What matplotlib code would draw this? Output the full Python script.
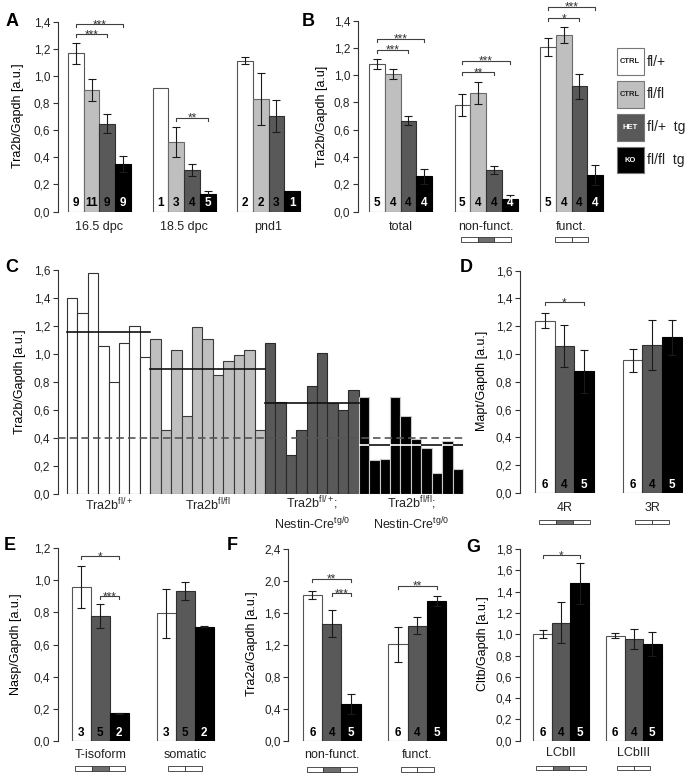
import matplotlib
matplotlib.use('Agg')
import matplotlib.pyplot as plt
from matplotlib.patches import Rectangle
import numpy as np

plt.rcParams['font.family'] = ['Liberation Sans', 'DejaVu Sans']
plt.rcParams['mathtext.fontset'] = 'custom'
plt.rcParams['mathtext.rm'] = 'Liberation Sans'
plt.rcParams['mathtext.it'] = 'Liberation Sans:italic'
plt.rcParams['mathtext.bf'] = 'Liberation Sans:bold'

# ---------------- data ----------------
genotypes4 = ['CTRL fl/+', 'CTRL fl/fl', 'HET fl/+ tg', 'KO fl/fl tg']

A_groups = ['16.5 dpc', '18.5 dpc', 'pnd1']
A_vals = [[1.165, 0.895, 0.648, 0.352], [0.908, 0.514, 0.308, 0.132], [1.111, 0.827, 0.705, 0.152]]
A_err = [[0.080, 0.078, 0.067, 0.060], [0.0, 0.110, 0.045, 0.022], [0.027, 0.190, 0.120, 0.0]]
A_n = [[9, 11, 9, 9], [1, 3, 4, 5], [2, 2, 3, 1]]

B_groups = ['total', 'non-funct.', 'funct.']
B_vals = [[1.082, 1.009, 0.665, 0.257], [0.780, 0.867, 0.303, 0.095], [1.205, 1.292, 0.918, 0.266]]
B_err = [[0.035, 0.034, 0.033, 0.053], [0.080, 0.080, 0.027, 0.025], [0.065, 0.060, 0.090, 0.073]]
B_n = [[5, 4, 4, 4], [5, 4, 4, 4], [5, 4, 4, 4]]

C_groups = [r'Tra2b$^{\mathrm{fl/+}}$', r'Tra2b$^{\mathrm{fl/fl}}$',
            'Tra2b$^{\\mathrm{fl/+}}$;\nNestin-Cre$^{\\mathrm{tg/0}}$',
            'Tra2b$^{\\mathrm{fl/fl}}$;\nNestin-Cre$^{\\mathrm{tg/0}}$']
C_flhet = [1.40, 1.29, 1.58, 1.06, 0.80, 1.08, 1.20, 0.98]
C_flfl = [1.11, 0.46, 1.03, 0.56, 1.19, 1.11, 0.85, 0.95, 0.99, 1.03, 0.46]
C_het = [1.08, 0.66, 0.28, 0.46, 0.77, 1.01, 0.65, 0.60, 0.74]
C_ko = [0.69, 0.24, 0.25, 0.69, 0.56, 0.39, 0.33, 0.15, 0.38, 0.18]
C_means = [1.16, 0.89, 0.65, 0.35]
C_threshold = 0.40

D_groups = ['4R', '3R']
D_vals = [[1.24, 1.06, 0.875], [0.955, 1.065, 1.12]]
D_err = [[0.053, 0.15, 0.157], [0.082, 0.18, 0.125]]
D_n = [[6, 4, 5], [6, 4, 5]]

E_groups = ['T-isoform', 'somatic']
E_vals = [[0.96, 0.778, 0.170], [0.794, 0.935, 0.711]]
E_err = [[0.13, 0.075, 0.004], [0.151, 0.055, 0.003]]
E_n = [[3, 5, 2], [3, 5, 2]]

F_groups = ['non-funct.', 'funct.']
F_vals = [[1.825, 1.467, 0.458], [1.208, 1.44, 1.75]]
F_err = [[0.054, 0.17, 0.125], [0.22, 0.104, 0.06]]
F_n = [[6, 4, 5], [6, 4, 5]]

G_groups = ['LCbII', 'LCbIII']
G_vals = [[0.999, 1.108, 1.478], [0.986, 0.958, 0.908]]
G_err = [[0.039, 0.19, 0.194], [0.024, 0.094, 0.11]]
G_n = [[6, 4, 5], [6, 4, 5]]

legend_box = ['CTRL', 'CTRL', 'HET', 'KO']
legend_lab = ['fl/+', 'fl/fl', 'fl/+  tg', 'fl/fl  tg']

# ---------------- style ----------------
COL4 = ['#ffffff', '#bfbfbf', '#595959', '#000000']
EDG4 = ['#555555', '#6a6a6a', '#303030', '#000000']
NCOL4 = ['#000000', '#000000', '#000000', '#ffffff']
COL3 = [COL4[0], COL4[2], COL4[3]]
EDG3 = [EDG4[0], EDG4[2], EDG4[3]]
NCOL3 = [NCOL4[0], NCOL4[2], NCOL4[3]]

W, H = 686, 775
fig = plt.figure(figsize=(W / 100, H / 100), dpi=100)


def make_ax(spine_px, y0_px, ymax, ppu, xmax, wpx, ystep):
    ax = fig.add_axes([spine_px / W, 1 - y0_px / H, xmax * wpx / W, ymax * ppu / H])
    ax.set_xlim(0, xmax)
    ax.set_ylim(0, ymax)
    for s in ['top', 'right', 'bottom']:
        ax.spines[s].set_visible(False)
    ax.spines['left'].set_color('#333333')
    ax.spines['left'].set_linewidth(0.8)
    ticks = np.round(np.arange(0, ymax + 1e-9, ystep), 2)
    ax.set_yticks(ticks)
    ax.set_yticklabels([f"{t:.1f}".replace('.', ',') for t in ticks], fontsize=8.5, color='#222222')
    ax.tick_params(axis='y', length=3.5, width=0.8, color='#333333', pad=2)
    ax.set_xticks([])
    ax.patch.set_alpha(0)
    info = dict(y0=y0_px, ppu=ppu, wpx=wpx)
    return ax, info


def ydat(info, p):
    return (info['y0'] - p) / info['ppu']


def grouped(ax, info, offset, step, vals_l, errs_l, ns_l, cols, edges, ncols):
    starts = []
    for g, (vals, errs, ns) in enumerate(zip(vals_l, errs_l, ns_l)):
        x0 = offset + g * step
        starts.append(x0)
        xs = x0 + np.arange(len(vals))
        ax.bar(xs, vals, width=1, align='edge', color=cols, edgecolor=edges, linewidth=0.8, zorder=2)
        for x, v, e in zip(xs, vals, errs):
            if e > 0:
                ax.errorbar(x + 0.5, v, yerr=e, fmt='none', ecolor='#1a1a1a', elinewidth=0.8,
                            capsize=3, capthick=0.8, zorder=3)
        for x, n, c in zip(xs, ns, ncols):
            ax.text(x + 0.5, ydat(info, info['y0'] - 8), str(n), ha='center', va='center',
                    fontsize=8.5, fontweight='bold', color=c, zorder=4)
    return starts


def bracket(ax, info, x1, x2, y, stars):
    t = 3.0 / info['ppu']
    ax.plot([x1, x1, x2, x2], [y - t, y, y, y - t], color='#404040', lw=0.8, clip_on=False, zorder=5)
    ax.text((x1 + x2) / 2, y - 4.0 / info['ppu'], stars, ha='center', va='baseline', fontsize=8.5,
            color='#333333', clip_on=False, zorder=5)


def group_labels(ax, info, starts, nb, labels, ypx, fs=9):
    for s, lab in zip(starts, labels):
        ax.text(s + nb / 2, ydat(info, ypx), lab, ha='center', va='center', fontsize=fs,
                color='#222222', clip_on=False)


def schematic(ax, info, xc, top_px, nseg, height_px=4.5, seg_px=16.7):
    sw = seg_px / info['wpx']
    y_top = ydat(info, top_px)
    hh = height_px / info['ppu']
    x = xc - nseg * sw / 2
    for i in range(nseg):
        fc = '#6e6e6e' if (nseg == 3 and i == 1) else '#ffffff'
        ax.add_patch(Rectangle((x + i * sw, y_top - hh), sw, hh, facecolor=fc, edgecolor='#333333',
                               lw=0.6, clip_on=False))


def flab(x, y, s, **kw):
    fig.text(x / W, 1 - y / H, s, **kw)


# ---------------- Panel A ----------------
axA, iA = make_ax(58, 211.5, 1.4, 135.7, 15.5, 15.75, 0.2)
stA = grouped(axA, iA, 0.63, 5.37, A_vals, A_err, A_n, COL4, EDG4, NCOL4)
bracket(axA, iA, stA[0] + 0.5, stA[0] + 3.5, 1.38, '***')
bracket(axA, iA, stA[0] + 0.5, stA[0] + 2.5, 1.305, '***')
bracket(axA, iA, stA[1] + 1.5, stA[1] + 3.5, 0.69, '**')
group_labels(axA, iA, stA, 4, A_groups, 227)
flab(18, 116, 'Tra2b/Gapdh [a.u.]', rotation=90, ha='center', va='center', fontsize=9)
flab(12, 21, 'A', fontsize=13, fontweight='bold', ha='center', va='center')

# ---------------- Panel B ----------------
axB, iB = make_ax(358, 211.5, 1.4, 136.4, 15.7, 15.75, 0.2)
stB = grouped(axB, iB, 0.70, 5.43, B_vals, B_err, B_n, COL4, EDG4, NCOL4)
bracket(axB, iB, stB[0] + 0.5, stB[0] + 3.5, 1.268, '***')
bracket(axB, iB, stB[0] + 0.5, stB[0] + 2.5, 1.185, '***')
bracket(axB, iB, stB[1] + 0.5, stB[1] + 3.5, 1.104, '***')
bracket(axB, iB, stB[1] + 0.5, stB[1] + 2.5, 1.02, '**')
bracket(axB, iB, stB[2] + 0.5, stB[2] + 3.5, 1.50, '***')
bracket(axB, iB, stB[2] + 0.5, stB[2] + 2.5, 1.417, '*')
group_labels(axB, iB, stB, 4, B_groups, 227)
schematic(axB, iB, stB[1] + 2, 237, 3)
schematic(axB, iB, stB[2] + 2, 237, 2)
flab(322, 116, 'Tra2b/Gapdh [a.u]', rotation=90, ha='center', va='center', fontsize=9)
flab(308, 21, 'B', fontsize=13, fontweight='bold', ha='center', va='center')

# legend
box_y = [48.5, 81.5, 114.5, 147]
for yb, bt, lab, fc in zip(box_y, legend_box, legend_lab, COL4):
    fig.add_artist(Rectangle((617 / W, 1 - (yb + 26) / H), 26.5 / W, 26 / H, transform=fig.transFigure,
                             facecolor=fc, edgecolor='#777777', lw=0.8))
    tc = '#ffffff' if fc in ('#595959', '#000000') else '#222222'
    flab(630.2, yb + 13, bt, fontsize=5.5, fontweight='bold', color=tc, ha='center', va='center')
    flab(647, yb + 13, lab, fontsize=10, ha='left', va='center', color='#222222')

# ---------------- Panel C ----------------
wC = 10.42
axC, iC = make_ax(58, 494, 1.6, 140, 39.2, wC, 0.2)
C_all = [C_flhet, C_flfl, C_het, C_ko]
C_edges = ['#333333', '#3a3a3a', '#2a2a2a', '#c8c8c8']
x0 = 0.86
C_starts = []
for gi, vals in enumerate(C_all):
    xs = x0 + np.arange(len(vals))
    C_starts.append(x0)
    axC.bar(xs, vals, width=1, align='edge', color=COL4[gi], edgecolor=C_edges[gi], linewidth=0.8, zorder=2)
    m = C_means[gi]
    if gi < 3:
        axC.plot([x0, x0 + len(vals)], [m, m], color='#111111', lw=1.2, zorder=4)
    else:
        for x, v in zip(xs, vals):
            axC.plot([x, x + 1], [m, m], color='#ffffff' if v > m else '#111111', lw=1.2, zorder=4,
                     solid_capstyle='butt')
    x0 += len(vals)
C_end = x0
axC.plot([0, C_end], [C_threshold, C_threshold], color='#555555', lw=1.2, ls=(0, (4.5, 2.5)), zorder=3)
for s, vals, lab in zip(C_starts, C_all, C_groups):
    ypos = 513.5 if '\n' in lab else 505
    axC.text(s + len(vals) / 2, ydat(iC, ypos), lab, ha='center', va='center',
             fontsize=9, color='#222222', clip_on=False, linespacing=1.25)
flab(20, 382, 'Tra2b/Gapdh [a.u.]', rotation=90, ha='center', va='center', fontsize=9)
flab(12, 268, 'C', fontsize=13, fontweight='bold', ha='center', va='center')

# ---------------- Panel D ----------------
axD, iD = make_ax(520, 493, 1.6, 139, 8.3, 19.67, 0.2)
stD = grouped(axD, iD, 0.76, 4.46, D_vals, D_err, D_n, COL3, EDG3, NCOL3)
bracket(axD, iD, stD[0] + 0.5, stD[0] + 2.5, 1.372, '*')
group_labels(axD, iD, stD, 3, D_groups, 508)
schematic(axD, iD, stD[0] + 1.5, 519.5, 3)
schematic(axD, iD, stD[1] + 1.5, 519.5, 2)
flab(482, 381, 'Mapt/Gapdh [a.u.]', rotation=90, ha='center', va='center', fontsize=9)
flab(466, 268, 'D', fontsize=13, fontweight='bold', ha='center', va='center')

# ---------------- Panel E ----------------
axE, iE = make_ax(58, 740.7, 1.2, 160.3, 8.3, 19.0, 0.2)
stE = grouped(axE, iE, 0.72, 4.47, E_vals, E_err, E_n, COL3, EDG3, NCOL3)
bracket(axE, iE, stE[0] + 0.5, stE[0] + 2.5, 1.15, '*')
bracket(axE, iE, stE[0] + 1.5, stE[0] + 2.5, 0.90, '***')
group_labels(axE, iE, stE, 3, E_groups, 755)
schematic(axE, iE, stE[0] + 1.5, 766, 3)
schematic(axE, iE, stE[1] + 1.5, 766, 2)
flab(16, 644, 'Nasp/Gapdh [a.u.]', rotation=90, ha='center', va='center', fontsize=9)
flab(10, 545, 'E', fontsize=13, fontweight='bold', ha='center', va='center')

# ---------------- Panel F ----------------
axF, iF = make_ax(288.3, 741, 2.4, 80, 8.3, 19.3, 0.4)
stF = grouped(axF, iF, 0.75, 4.43, F_vals, F_err, F_n, COL3, EDG3, NCOL3)
bracket(axF, iF, stF[0] + 0.5, stF[0] + 2.5, 2.03, '**')
bracket(axF, iF, stF[0] + 1.5, stF[0] + 2.5, 1.846, '***')
bracket(axF, iF, stF[1] + 0.5, stF[1] + 2.5, 1.94, '**')
group_labels(axF, iF, stF, 3, F_groups, 755.5)
schematic(axF, iF, stF[0] + 1.5, 767, 3)
schematic(axF, iF, stF[1] + 1.5, 767, 2)
flab(252, 644, 'Tra2a/Gapdh [a.u.]', rotation=90, ha='center', va='center', fontsize=9)
flab(232, 545, 'F', fontsize=13, fontweight='bold', ha='center', va='center')

# ---------------- Panel G ----------------
axG, iG = make_ax(520, 740.7, 1.8, 106.5, 8.0, 18.5, 0.2)
stG = grouped(axG, iG, 0.72, 3.93, G_vals, G_err, G_n, COL3, EDG3, NCOL3)
bracket(axG, iG, stG[0] + 0.5, stG[0] + 2.5, 1.744, '*')
group_labels(axG, iG, stG, 3, G_groups, 752.7)
schematic(axG, iG, stG[0] + 1.5, 765.5, 3)
schematic(axG, iG, stG[1] + 1.5, 765.5, 2)
flab(483, 644, 'Cltb/Gapdh [a.u.]', rotation=90, ha='center', va='center', fontsize=9)
flab(473, 548, 'G', fontsize=13, fontweight='bold', ha='center', va='center')

fig.savefig('out.png', dpi=100)
